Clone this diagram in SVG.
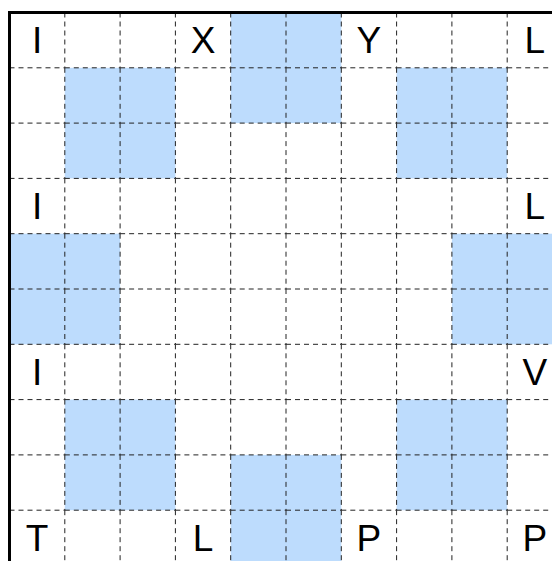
<svg xmlns="http://www.w3.org/2000/svg" xmlns:xlink="http://www.w3.org/1999/xlink" width="552" height="561" viewBox="0 0 552 561">
<style>
.cell{fill:#bddcfd;stroke:none}
.grid{fill:none;stroke:#222;stroke-width:1;stroke-dasharray:5 4}
.border{fill:none;stroke:#000;stroke-width:3}
.lbl{font-family:"Liberation Sans",Arial,sans-serif;font-size:37px;fill:#000;text-anchor:middle}
</style>
<defs>
<path id="vl" class="grid" d="M0 12.5v55.3M0 67.8v55.3M0 123.1v55.3M0 178.4v55.3M0 233.7v55.3M0 289v55.3M0 344.3v55.3M0 399.6v55.3M0 454.9v55.3M0 510.2v55.3"/>
<path id="hl" class="grid" d="M9.5 0h55.3M64.8 0h55.3M120.1 0h55.3M175.4 0h55.3M230.7 0h55.3M286 0h55.3M341.3 0h55.3M396.6 0h55.3M451.9 0h55.3M507.2 0h55.3"/>
</defs>
<rect x="0" y="0" width="552" height="561" fill="#fff"/>
<g id="shaded">
<rect class="cell" x="230.7" y="12.5" width="110.6" height="110.6"/>
<rect class="cell" x="64.8" y="67.8" width="110.6" height="110.6"/>
<rect class="cell" x="396.6" y="67.8" width="110.6" height="110.6"/>
<rect class="cell" x="9.5" y="233.7" width="110.6" height="110.6"/>
<rect class="cell" x="451.9" y="233.7" width="110.6" height="110.6"/>
<rect class="cell" x="64.8" y="399.6" width="110.6" height="110.6"/>
<rect class="cell" x="396.6" y="399.6" width="110.6" height="110.6"/>
<rect class="cell" x="230.7" y="454.9" width="110.6" height="110.6"/>
</g>
<g id="grid">
<use xlink:href="#vl" x="64.8"/>
<use xlink:href="#vl" x="120.1"/>
<use xlink:href="#vl" x="175.4"/>
<use xlink:href="#vl" x="230.7"/>
<use xlink:href="#vl" x="286"/>
<use xlink:href="#vl" x="341.3"/>
<use xlink:href="#vl" x="396.6"/>
<use xlink:href="#vl" x="451.9"/>
<use xlink:href="#vl" x="507.2"/>
<use xlink:href="#hl" y="67.8"/>
<use xlink:href="#hl" y="123.1"/>
<use xlink:href="#hl" y="178.4"/>
<use xlink:href="#hl" y="233.7"/>
<use xlink:href="#hl" y="289"/>
<use xlink:href="#hl" y="344.3"/>
<use xlink:href="#hl" y="399.6"/>
<use xlink:href="#hl" y="454.9"/>
<use xlink:href="#hl" y="510.2"/>
</g>
<rect id="border" class="border" x="9.5" y="12.5" width="553" height="553"/>
<g id="labels">
<text class="lbl" x="37.15" y="53.3">I</text>
<text class="lbl" x="203.05" y="53.3">X</text>
<text class="lbl" x="368.95" y="53.3">Y</text>
<text class="lbl" x="534.85" y="53.3">L</text>
<text class="lbl" x="37.15" y="219.2">I</text>
<text class="lbl" x="534.85" y="219.2">L</text>
<text class="lbl" x="37.15" y="385.1">I</text>
<text class="lbl" x="534.85" y="385.1">V</text>
<text class="lbl" x="37.15" y="551">T</text>
<text class="lbl" x="203.05" y="551">L</text>
<text class="lbl" x="368.95" y="551">P</text>
<text class="lbl" x="534.85" y="551">P</text>
</g>
</svg>
